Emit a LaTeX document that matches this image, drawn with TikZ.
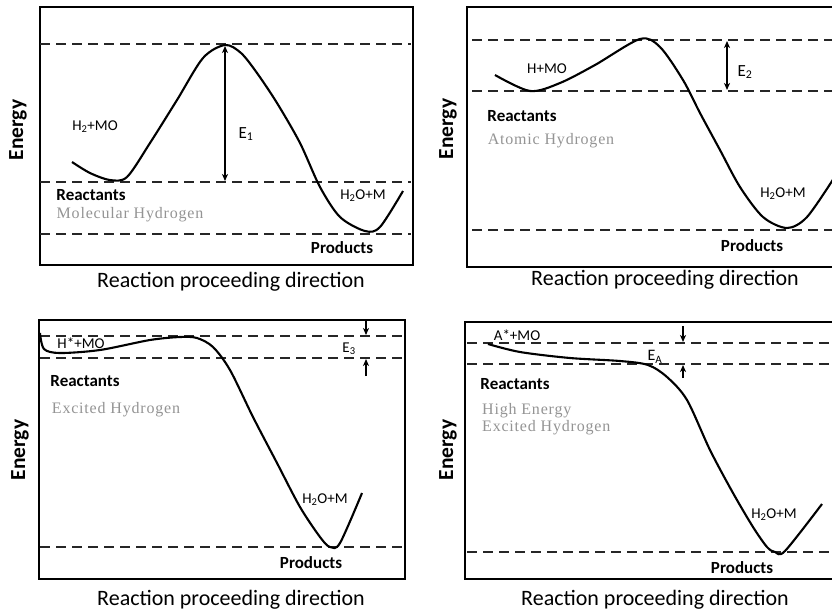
\documentclass[tikz,border=0pt]{standalone}
\usepackage{fontspec}
\setmainfont{Carlito}
\newfontfamily\grayserif[LetterSpace=5]{Liberation Serif}
\usetikzlibrary{arrows.meta}
\begin{document}
\begin{tikzpicture}[x=1pt,y=-1pt,
  frame/.style={draw=black,line width=2.2pt},
  level/.style={draw=black!85,line width=2.2pt,dash pattern=on 10pt off 6pt},
  curve/.style={draw=black,line width=2.1pt,line join=round},
  earrow/.style={draw=black,line width=1.6pt,{Stealth[length=7pt,width=6pt,inset=2pt]}-{Stealth[length=7pt,width=6pt,inset=2pt]}},
  sarrow/.style={draw=black,line width=1.6pt,-{Stealth[length=7pt,width=6pt,inset=2pt]}},
  lab/.style={font=\fontsize{15}{17}\selectfont,inner sep=0pt},
  elab/.style={font=\fontsize{17}{19}\selectfont,inner sep=0pt},
  bold/.style={font=\fontsize{17}{19}\selectfont\bfseries,inner sep=0pt},
  gray/.style={font=\fontsize{16}{18}\selectfont\grayserif,text=black!42,inner sep=0pt,align=left},
  yaxis/.style={font=\fontsize{21.5}{23}\selectfont\bfseries,rotate=90,inner sep=0pt},
  xaxis/.style={font=\fontsize{22}{24}\selectfont,inner sep=0pt}]
\useasboundingbox (0,0) rectangle (832,614);
\clip (0,0) rectangle (832,614);
\fill[white] (0,0) rectangle (832,614);

% ---------------- Panel 1 ----------------
\draw[frame] (40,7) rectangle (413,265);
\draw[level] (40,44) -- (411,44);
\draw[level] (40,182) -- (411,182);
\draw[level] (40,234) -- (411,234);
\draw[curve] plot[smooth,tension=0.5] coordinates {(72,162) (90,173) (110,180) (127,177) (150,143) (177,100) (203,58) (225,45) (241,53) (257,73) (277,103) (300,143) (320,187) (340,217) (365,231) (380,227) (403,191)};
\coordinate (a1t) at (225,46);
\coordinate (a1b) at (225,181);
\draw[earrow] (a1t) -- (a1b);
\node[lab] (p1r) at (95,127) {H\textsubscript{2}+MO};
\node[elab] (p1e) at (246,134) {E\textsubscript{1}};
\node[bold] (p1re) at (91,195) {Reactants};
\node[gray] (p1g) at (130,215) {Molecular Hydrogen};
\node[lab] (p1p) at (363,196) {H\textsubscript{2}O+M};
\node[bold] (p1pr) at (342,248) {Products};
\node[yaxis] (p1y) at (18,130) {Energy};
\node[xaxis] (p1x) at (231,282) {Reaction proceeding direction};

% ---------------- Panel 2 ----------------
\draw[frame] (467,7) rectangle (840,267);
\draw[level] (472,40) -- (832,40);
\draw[level] (472,91) -- (832,91);
\draw[level] (472,230) -- (832,230);
\draw[curve] plot[smooth,tension=0.5] coordinates {(495,75) (530,91) (560,83) (595,65) (640,39) (660,47) (683,80) (700,113) (720,150) (740,187) (763,217) (787,228) (807,217) (834,178)};
\coordinate (a2t) at (727,41);
\coordinate (a2b) at (727,90);
\draw[earrow] (a2t) -- (a2b);
\node[lab] (p2r) at (547,69) {H+MO};
\node[elab] (p2e) at (745,72) {E\textsubscript{2}};
\node[bold] (p2re) at (522,116) {Reactants};
\node[gray] (p2g) at (551,141) {Atomic Hydrogen};
\node[lab] (p2p) at (783,194) {H\textsubscript{2}O+M};
\node[bold] (p2pr) at (752,246) {Products};
\node[yaxis] (p2y) at (448,129) {Energy};
\node[xaxis] (p2x) at (665,280) {Reaction proceeding direction};

% ---------------- Panel 3 ----------------
\draw[frame] (39,320) rectangle (405,579);
\draw[level] (40,336) -- (405,336);
\draw[level] (40,358) -- (405,358);
\draw[level] (40,547) -- (405,547);
\draw[curve] plot[smooth,tension=0.5] coordinates {(40,333) (44,349) (60,353) (100,350) (150,340) (180,337) (197,338) (213,347) (230,370) (253,417) (277,463) (300,507) (320,537) (330,547) (340,543) (362,493)};
\coordinate (a3s) at (366,321);
\coordinate (a3e) at (366,335);
\coordinate (a3u) at (366,376);
\coordinate (a3v) at (366,359);
\draw[sarrow] (a3s) -- (a3e);
\draw[sarrow] (a3u) -- (a3v);
\node[lab] (p3r) at (81,343) {H*+MO};
\node[elab,font=\fontsize{15}{17}\selectfont] (p3e) at (349,349) {E\textsubscript{3}};
\node[bold] (p3re) at (85,381) {Reactants};
\node[gray] (p3g) at (116,410) {Excited Hydrogen};
\node[lab] (p3p) at (325,500) {H\textsubscript{2}O+M};
\node[bold] (p3pr) at (311,563) {Products};
\node[yaxis] (p3y) at (20,450) {Energy};
\node[xaxis] (p3x) at (231,600) {Reaction proceeding direction};

% ---------------- Panel 4 ----------------
\draw[frame] (465,322) rectangle (840,579);
\draw[level] (467,343) -- (832,343);
\draw[level] (467,364) -- (832,364);
\draw[level] (467,552) -- (832,552);
\draw[curve] plot[smooth,tension=0.5] coordinates {(488,344) (520,352) (570,358) (620,361) (648,365) (667,377) (687,400) (710,450) (733,493) (753,527) (767,547) (775,552) (785,551) (822,504)};
\coordinate (a4s) at (683,326);
\coordinate (a4e) at (683,342);
\coordinate (a4u) at (683,378);
\coordinate (a4v) at (683,365);
\draw[sarrow] (a4s) -- (a4e);
\draw[sarrow] (a4u) -- (a4v);
\node[lab] (p4r) at (517,335) {A*+MO};
\node[elab,font=\fontsize{16}{18}\selectfont] (p4e) at (655,357) {E\textsubscript{A}};
\node[bold] (p4re) at (515,384) {Reactants};
\node[gray,anchor=west] (p4g) at (482,419.5) {High Energy\\[-1pt]Excited Hydrogen};
\node[lab] (p4p) at (774,515) {H\textsubscript{2}O+M};
\node[bold] (p4pr) at (742,568) {Products};
\node[yaxis] (p4y) at (448,450) {Energy};
\node[xaxis] (p4x) at (655,600) {Reaction proceeding direction};
\end{tikzpicture}
\end{document}
